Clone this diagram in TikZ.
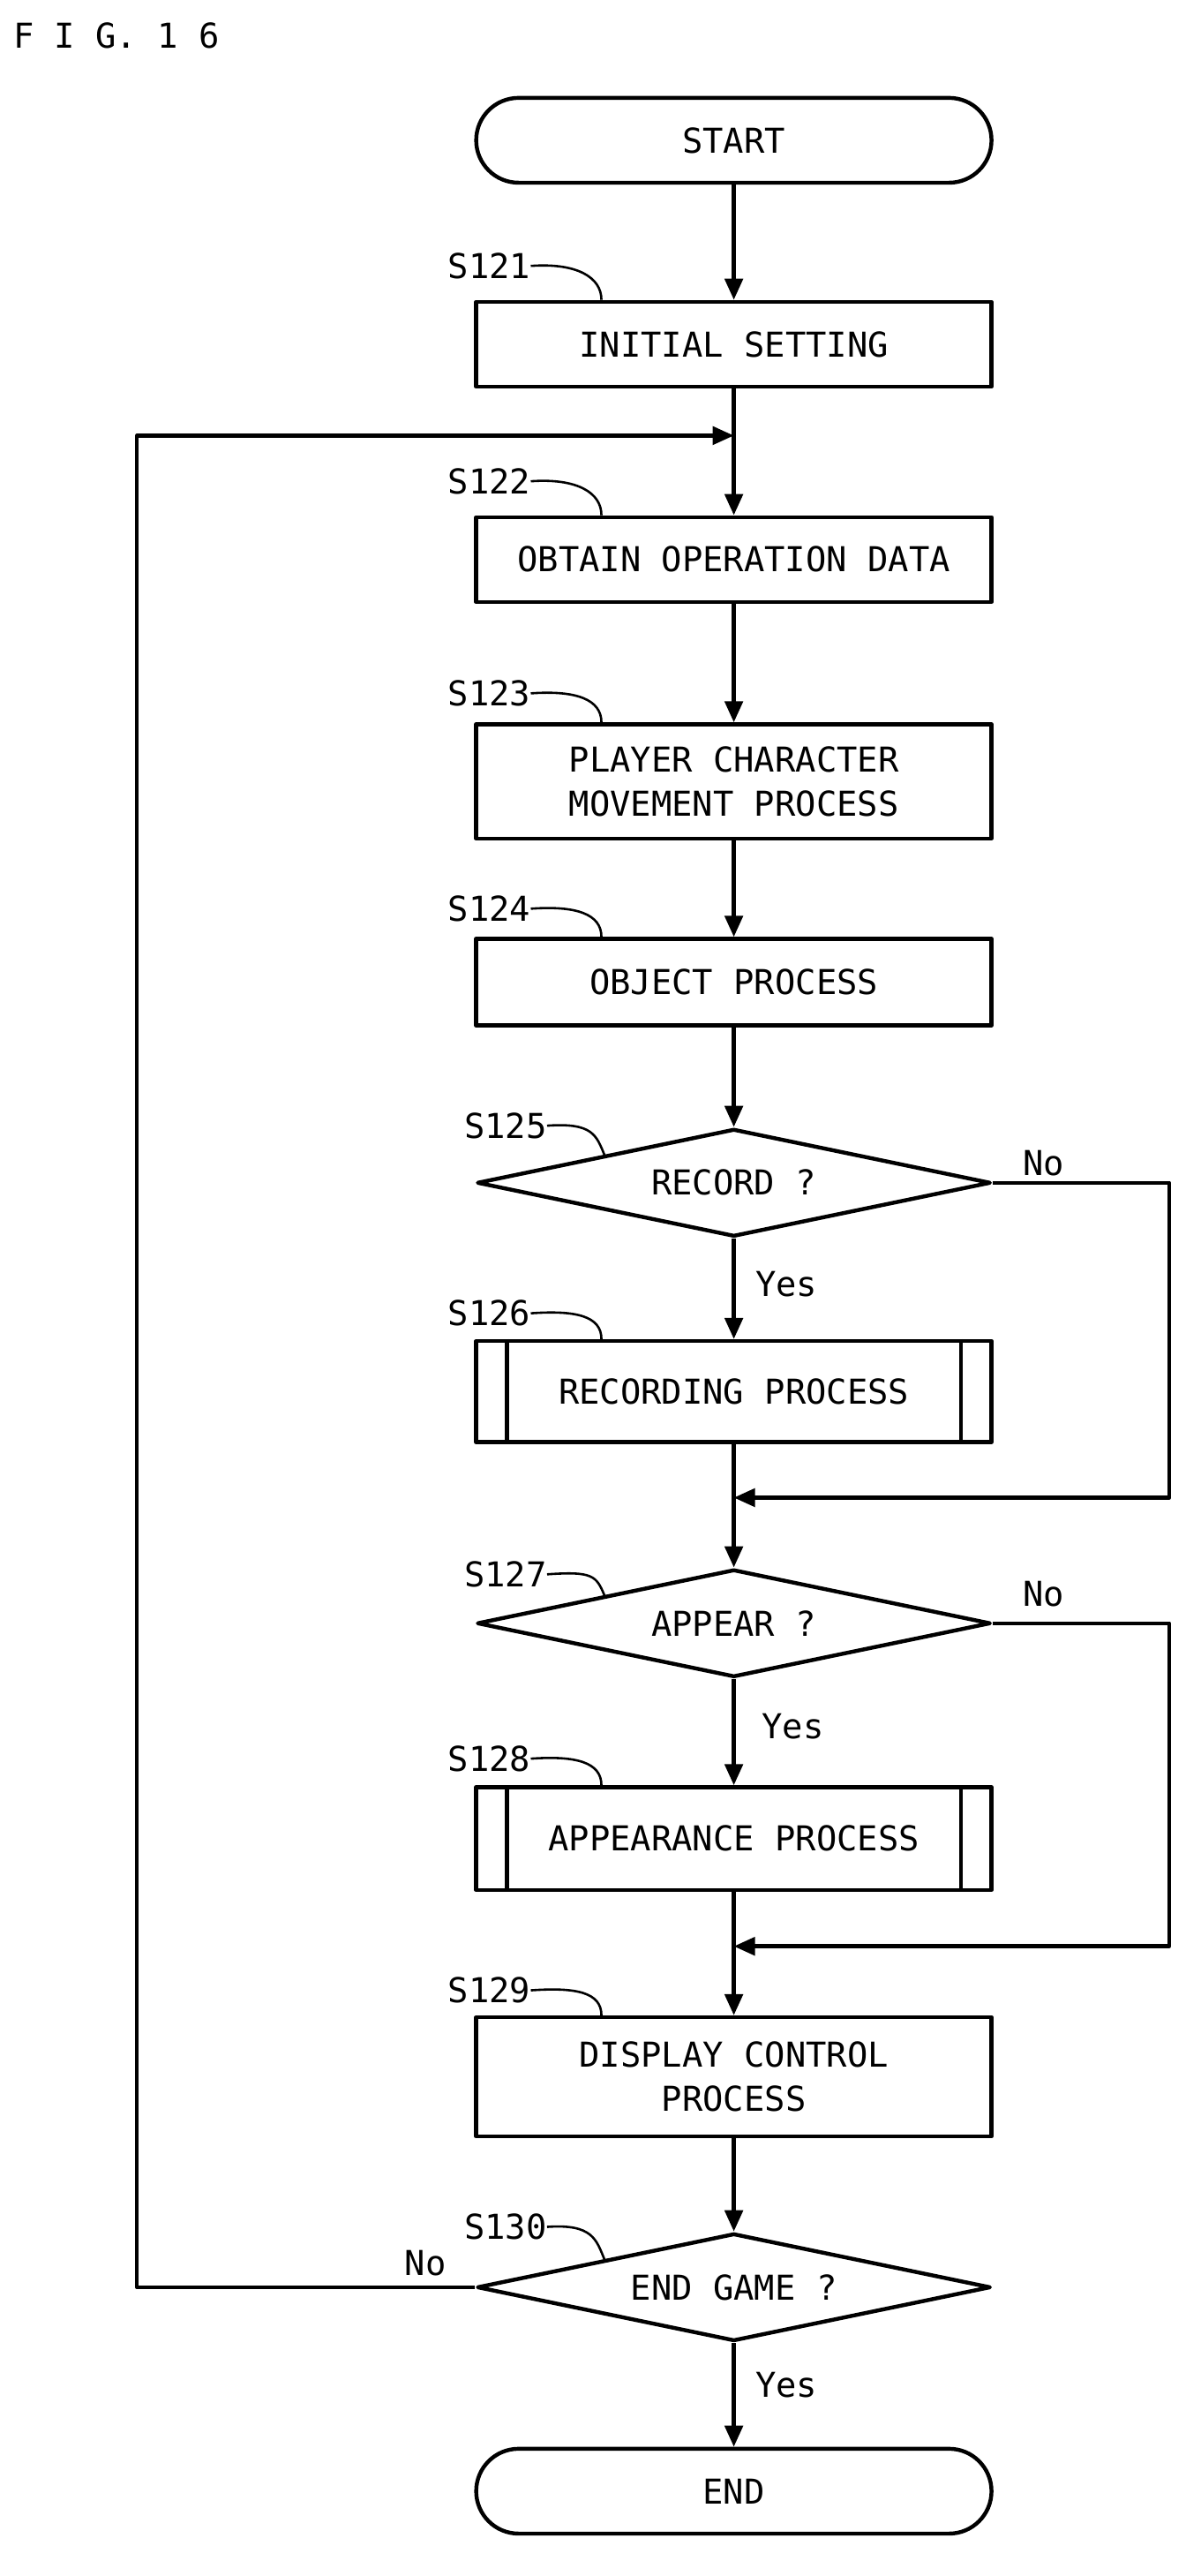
\documentclass[tikz,border=0pt]{standalone}
\usepackage{fontspec}
\setmonofont{DejaVu Sans Mono}
\usetikzlibrary{arrows.meta,shapes.geometric}
\tikzset{
  flow/.style={line width=2.4pt,-{Triangle[length=13pt,width=11pt]}},
  box/.style={draw,line width=2.4pt,minimum width=316pt,align=center,font=\ttfamily\fontsize{21}{27}\selectfont,inner sep=0pt},
  term/.style={box,rounded corners=26pt,minimum height=52pt},
  cond/.style={draw,line width=2.4pt,diamond,aspect=4.8,minimum width=315pt,minimum height=66pt,inner sep=0pt,font=\ttfamily\fontsize{21}{27}\selectfont},
  steplabel/.style={font=\ttfamily\fontsize{21}{27}\selectfont,inner sep=0pt},
  note/.style={font=\ttfamily\fontsize{21}{27}\selectfont,inner sep=0pt}
}
\begin{document}
\begin{tikzpicture}[x=1pt,y=-1pt,line join=round]
	\useasboundingbox (0,0) rectangle (736,1579) ;
	\node[note,anchor=west] (fig) at (8,22) {F I G. 1 6} ;
	\node[term] (start) at (450,86) {START} ;
	\node[box,minimum height=52pt] (b121) at (450,211) {INITIAL SETTING} ;
	\node[box,minimum height=52pt] (b122) at (450,343) {OBTAIN OPERATION DATA} ;
	\node[box,minimum height=70pt] (b123) at (450,479) {PLAYER CHARACTER\\MOVEMENT PROCESS} ;
	\node[box,minimum height=53pt] (b124) at (450,602) {OBJECT PROCESS} ;
	\node[cond] (d125) at (450,725) {RECORD ?} ;
	\node[box,minimum height=62pt] (b126) at (450,853) {RECORDING PROCESS} ;
	\node[cond] (d127) at (450,995) {APPEAR ?} ;
	\node[box,minimum height=63pt] (b128) at (450,1127) {APPEARANCE PROCESS} ;
	\node[box,minimum height=73pt] (b129) at (450,1273) {DISPLAY CONTROL\\PROCESS} ;
	\node[cond] (d130) at (450,1402) {END GAME ?} ;
	\node[term] (end) at (450,1527) {END} ;
	% sub-routine bars
	\foreach \Box in {b126,b128} {
		\draw[line width=2.4pt] ([xshift=20pt]\Box.north west) -- ([xshift=20pt]\Box.south west) ;
		\draw[line width=2.4pt] ([xshift=-20pt]\Box.north east) -- ([xshift=-20pt]\Box.south east) ;
	}
	% step labels
	\foreach \Box/\Name/\Y in {b121/S121/163,b122/S122/295,b123/S123/425,b124/S124/557,b126/S126/805,b128/S128/1078,b129/S129/1220} {
		\node[steplabel] (l\Box) at (300,\Y) {\Name} ;
		\draw[line width=1.4pt] (l\Box.east) .. controls +(28,-2) and +(0,-14) .. ([xshift=78pt]\Box.north west) ;
	}
	\foreach \Box/\Name/\Y in {d125/S125/690,d127/S127/965,d130/S130/1365} {
		\node[steplabel] (l\Box) at (310,\Y) {\Name} ;
		\draw[line width=1.4pt] (l\Box.east) .. controls +(28,-2) and +(-5,-12) .. (\Box.north west) ;
	}
	\coordinate (join1) at (450,267) ; \coordinate (join2) at (450,918) ; \coordinate (join3) at (450,1193) ;
	\coordinate (r125) at (717,725) ; \coordinate (r127) at (717,995) ; \coordinate (l130) at (84,1402) ;
	% main flow
	\draw[flow] (start) -- (b121) ;
	\draw[flow] (b121) -- (b122) ;
	\draw[flow] (b122) -- (b123) ;
	\draw[flow] (b123) -- (b124) ;
	\draw[flow] (b124) -- (d125) ;
	\draw[flow] (d125) -- (b126) node[note,pos=0.45,right=12pt] {Yes} ;
	\draw[flow] (b126) -- (d127) ;
	\draw[flow] (d127) -- (b128) node[note,pos=0.45,right=16pt] {Yes} ;
	\draw[flow] (b128) -- (b129) ;
	\draw[flow] (b129) -- (d130) ;
	\draw[flow] (d130) -- (end) node[note,pos=0.4,right=12pt] {Yes} ;
	% branches
	\draw[flow] (d125.east) -- (r125) |- (join2) ;
	\draw[flow] (d127.east) -- (r127) |- (join3) ;
	\draw[flow] (d130.west) -- (l130) |- (join1) ;
	\node[note] (no125) at (640,713) {No} ;
	\node[note] (no127) at (640,977) {No} ;
	\node[note] (no130) at (261,1387) {No} ;
\end{tikzpicture}
\end{document}
